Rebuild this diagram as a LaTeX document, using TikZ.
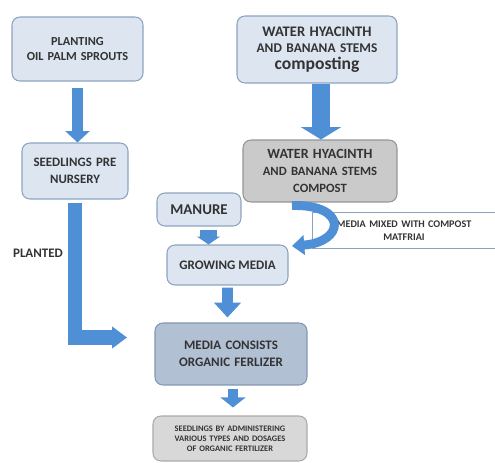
\documentclass[tikz,border=0pt]{standalone}
\usepackage{fontspec}
\setmainfont{Carlito}[UprightFont={* Bold},BoldFont={* Bold}]
\usetikzlibrary{arrows.meta,positioning,calc}
\definecolor{boxfill}{HTML}{DCE5F0}
\definecolor{boxline}{HTML}{8CA3C0}
\definecolor{greyfill}{HTML}{CACACA}
\definecolor{greyline}{HTML}{959595}
\definecolor{deepfill}{HTML}{B2C0D4}
\definecolor{deepline}{HTML}{8397B3}
\definecolor{paler}{HTML}{D8D8D8}
\definecolor{flowblue}{HTML}{4F8FD5}
\definecolor{inkgrey}{HTML}{333333}
\newcommand{\fsz}[2]{\fontsize{#1}{#2}\selectfont}
\tikzset{
  stepbox/.style = {rounded corners=4.5pt, draw=boxline, fill=boxfill,
                    text=inkgrey, align=center, inner sep=2pt, line width=0.6pt},
  greybox/.style = {stepbox, draw=greyline, fill=greyfill},
  deepbox/.style = {stepbox, draw=deepline, fill=deepfill},
  endbox/.style  = {stepbox, draw=greyline!80, fill=paler},
  bigflow/.style n args={3}{draw=flowblue, line width=#1, line join=miter,
                    -{Triangle[width=#2,length=#3]}},
}
\begin{document}
\begin{tikzpicture}[x=0.02cm,y=-0.02cm]
  \useasboundingbox (0,0) rectangle (495,463);
  % left column
  \node[stepbox,font=\fsz{7}{9},text width=2.4cm,minimum width=2.62cm,minimum height=1.28cm] (plant) at (77.5,49)
    {PLANTING\\OIL PALM SPROUTS};
  \node[stepbox,font=\fsz{7.3}{9.5},text width=1.9cm,minimum width=2.12cm,minimum height=1.12cm] (seed) at (75,171)
    {SEEDLINGS PRE\\NURSERY};
  % right column
  \node[stepbox,font=\fsz{7.6}{9.5},text width=3cm,minimum width=3.2cm,minimum height=1.34cm] (hyac) at (317,49.5)
    {{\fsz{8.3}{9.5}WATER HYACINTH}\\AND BANANA STEMS\\{\fsz{10}{9.5}composting}};
  \node[greybox,font=\fsz{7.2}{9.5},text width=2.9cm,minimum width=3.08cm,minimum height=1.24cm] (cmp) at (320,171)
    {{\fsz{8}{9.5}WATER HYACINTH}\\AND BANANA STEMS\\COMPOST};
  \node[stepbox,font=\fsz{8.5}{10},minimum width=1.68cm,minimum height=0.66cm] (man) at (199,209.5)
    {MANURE};
  \node[stepbox,font=\fsz{7.4}{9},minimum width=2.42cm,minimum height=0.8cm] (grow) at (227.5,265)
    {GROWING MEDIA};
  \node[deepbox,font=\fsz{7.4}{9.5},text width=2.85cm,minimum width=3.04cm,minimum height=1.24cm] (cons) at (231,354)
    {MEDIA CONSISTS\\ORGANIC FERLIZER};
  \node[endbox,font=\fsz{4.8}{5.7},text width=2.9cm,minimum width=3.08cm,minimum height=0.9cm] (final) at (230,438.5)
    {SEEDLINGS BY ADMINISTERING\\VARIOUS TYPES AND DOSAGES\\OF ORGANIC FERTILIZER};

  % side label
  \node[font=\fsz{5.8}{7.5},text=inkgrey,align=center,text width=3.4cm,
        minimum width=3.64cm,minimum height=0.7cm] (mixlbl) at (404,230.5)
    {MEDIA MIXED WITH COMPOST\\MATFRIAI};
  \draw[boxline,line width=0.6pt] (mixlbl.north east) -- (mixlbl.north west)
    -- (mixlbl.south west) -- (mixlbl.south east);
  \node[font=\fsz{7.4}{9},text=inkgrey] (plantedlbl) at (38,253) {PLANTED};

  % block arrows
  \draw[bigflow={6.2pt}{13.6pt}{6.5pt}] ($(plant.south)+(0,6)$) -- (plant.south |- seed.north);
  \draw[bigflow={10pt}{22.5pt}{7pt}] ($(cmp.north)+(1,-55)$) -- ($(cmp.north)+(1,0)$);
  \draw[bigflow={9.5pt}{13pt}{4.5pt}] ($(man.south)+(9.5,3)$) -- ($(grow.north)+(-19,0)$);
  \draw[bigflow={6.2pt}{15pt}{8.5pt}] ($(grow.south)+(0,2)$) -- ($(cons.north)+(-3.5,-5)$);
  \draw[bigflow={5.7pt}{14pt}{5.7pt}] ($(cons.south)+(2,3)$) -- ($(final.north)+(3,-8)$);
  \coordinate (plantend) at (127,337.5);
  \draw[bigflow={8.5pt}{12pt}{8.5pt}] ($(seed.south)+(0,3)$) |- (plantend);
  \coordinate (mixstart) at ($(cmp.south)+(-28,3)$);
  \coordinate (mixend) at (292,246);
  \draw[bigflow={5.1pt}{11pt}{7pt}] (mixstart) .. controls (348,204) and (345,242) .. (mixend);
\end{tikzpicture}
\end{document}
